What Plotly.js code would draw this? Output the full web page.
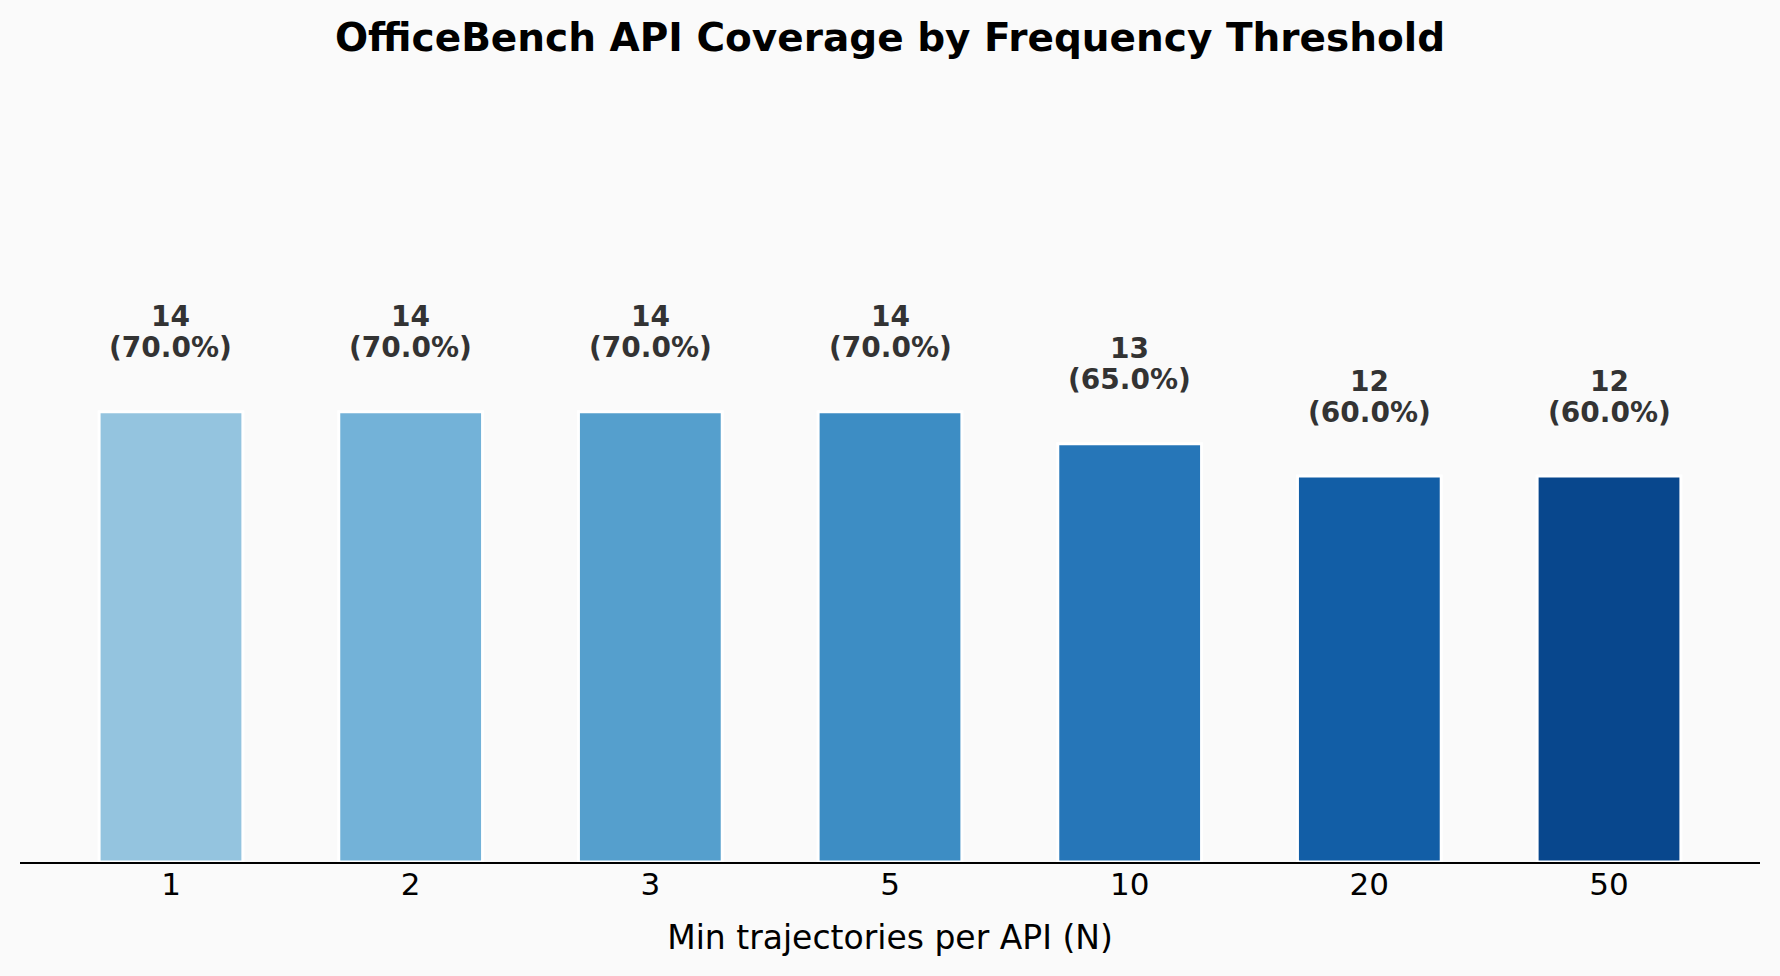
<!DOCTYPE html>
<html>
<head>
<meta charset="utf-8">
<script src="https://cdn.plot.ly/plotly-3.0.1.min.js"></script>
<style>
  html, body { margin: 0; padding: 0; background: #fafafa; }
  #chart { width: 1780px; height: 976px; }
</style>
</head>
<body>
<div id="chart"></div>
<script>
const thresholds = ['1', '2', '3', '5', '10', '20', '50'];
const apiCounts = [14, 14, 14, 14, 13, 12, 12];
const coveragePct = ['70.0', '70.0', '70.0', '70.0', '65.0', '60.0', '60.0'];
const barColors = ['#94c4df', '#73b2d8', '#559fcd', '#3d8dc4', '#2676b8', '#125ea6', '#08478d'];

const FONT = 'DejaVu Sans, Verdana, sans-serif';

const trace = {
  type: 'bar',
  x: thresholds,
  y: apiCounts,
  width: 0.6,
  marker: { color: barColors, line: { color: '#ffffff', width: 3 } },
  hoverinfo: 'skip'
};

const annotations = [];
thresholds.forEach((t, i) => {
  annotations.push({
    x: i, y: apiCounts[i], xref: 'x', yref: 'y',
    text: '<b>' + apiCounts[i] + '</b>',
    showarrow: false, yanchor: 'middle', yshift: 95,
    font: { family: FONT, size: 28, color: '#333333' }
  });
  annotations.push({
    x: i, y: apiCounts[i], xref: 'x', yref: 'y',
    text: '<b>(' + coveragePct[i] + '%)</b>',
    showarrow: false, yanchor: 'middle', yshift: 64,
    font: { family: FONT, size: 28, color: '#333333' }
  });
});

const layout = {
  width: 1780,
  height: 976,
  margin: { l: 20, r: 20, t: 283, b: 114, pad: 0 },
  paper_bgcolor: '#fafafa',
  plot_bgcolor: '#fafafa',
  showlegend: false,
  title: {
    text: '<b>OfficeBench API Coverage by Frequency Threshold</b>',
    font: { family: FONT, size: 39, color: '#000000' },
    x: 0.5, xref: 'paper', xanchor: 'center',
    y: 1 - 37 / 976, yref: 'container', yanchor: 'middle'
  },
  xaxis: {
    type: 'category',
    range: [-0.63, 6.63],
    showline: true, linecolor: '#000000', linewidth: 2,
    showgrid: false, zeroline: false,
    ticks: '',
    ticklabelstandoff: -6,
    tickfont: { family: FONT, size: 31, color: '#000000' },
    title: {
      text: 'Min trajectories per API (N)',
      font: { family: FONT, size: 33, color: '#000000' },
      standoff: 25
    }
  },
  yaxis: {
    visible: false,
    range: [0, 18],
    showgrid: false, zeroline: false
  },
  annotations: annotations
};

Plotly.newPlot('chart', [trace], layout, { displayModeBar: false, staticPlot: true });
</script>
</body>
</html>
